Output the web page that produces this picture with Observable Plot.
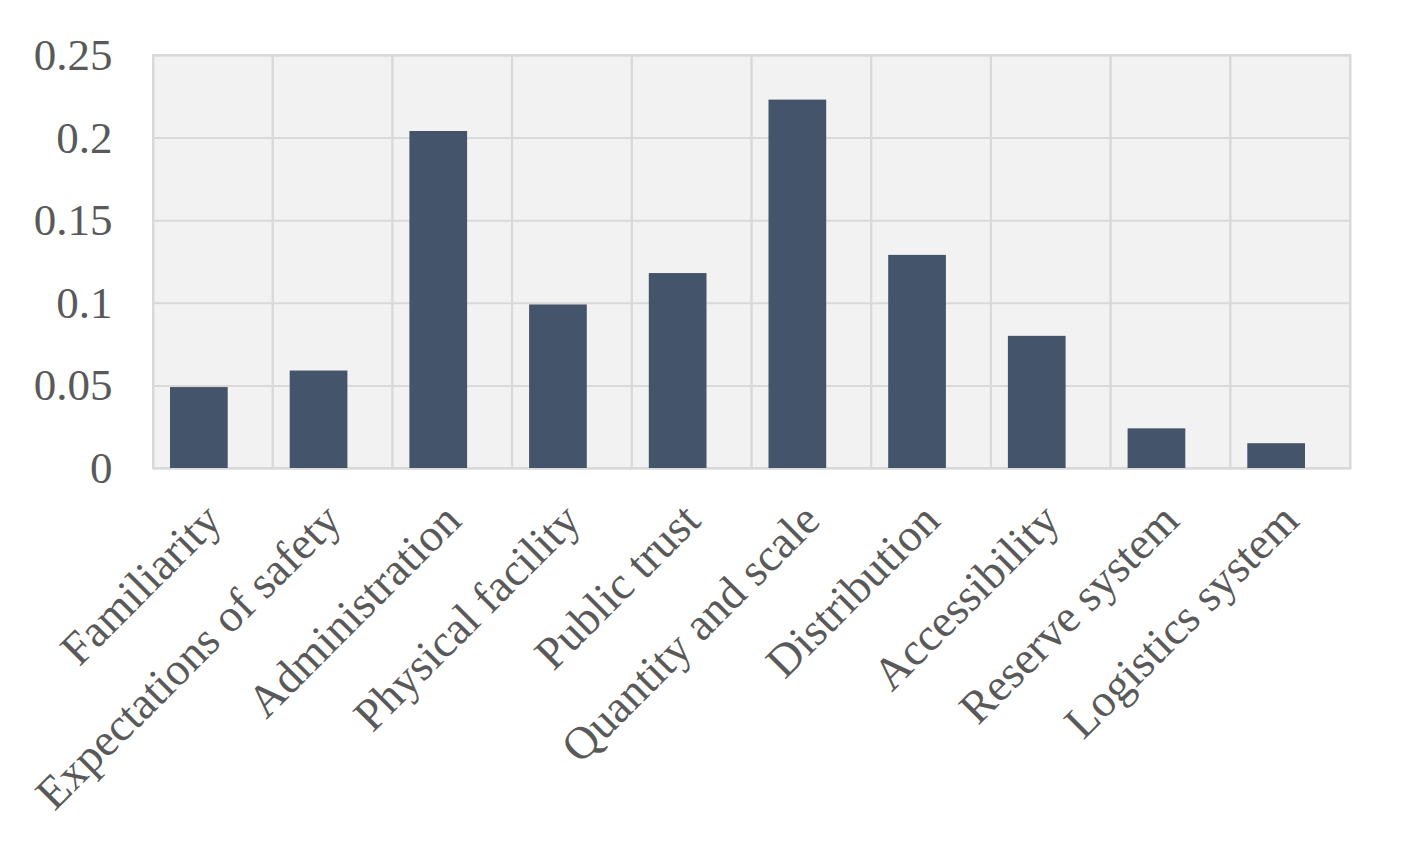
<!DOCTYPE html>
<html>
<head>
<meta charset="utf-8">
<script src="https://cdn.jsdelivr.net/npm/d3@7"></script>
<script src="https://cdn.jsdelivr.net/npm/@observablehq/plot@0.6"></script>
<style>
  html, body { margin: 0; padding: 0; background: #ffffff; }
</style>
</head>
<body>
<div id="chart"></div>
<script>
const categories = [
  "Familiarity",
  "Expectations of safety",
  "Administration",
  "Physical facility",
  "Public trust",
  "Quantity and scale",
  "Distribution",
  "Accessibility",
  "Reserve system",
  "Logistics system"
];
const values = [0.049, 0.059, 0.204, 0.099, 0.118, 0.223, 0.129, 0.080, 0.024, 0.015];
const yTicks = [0, 0.05, 0.1, 0.15, 0.2, 0.25];
const yTickLabels = ["0", "0.05", "0.1", "0.15", "0.2", "0.25"];

const data = categories.map((c, i) => ({category: c, value: values[i]}));

const gridColor = "#d9d9d9";
const textColor = "#595959";

const chart = Plot.plot({
  width: 1407,
  height: 861,
  marginLeft: 153,
  marginRight: 57,
  marginTop: 55,
  marginBottom: 393,
  style: {
    fontFamily: "'Liberation Serif', 'Times New Roman', serif",
    background: "#ffffff",
    color: textColor
  },
  x: {domain: categories, padding: 0, round: false, label: null},
  y: {domain: [0, 0.25], label: null},
  marks: [
    Plot.frame({fill: "#f2f2f2"}),
    Plot.gridY(yTicks, {stroke: gridColor, strokeOpacity: 1, strokeWidth: 2}),
    Plot.cell(data, {x: "category", fill: "none", stroke: gridColor, strokeWidth: 2}),
    Plot.frame({stroke: gridColor, strokeWidth: 2}),
    Plot.barY(data, {x: "category", y: "value", fill: "#44546a", insetLeft: 17, insetRight: 45}),
    Plot.axisY(yTicks, {
      tickFormat: (d, i) => yTickLabels[i],
      tickSize: 0,
      tickPadding: 41,
      fontSize: 45,
      fill: textColor,
      label: null
    }),
    Plot.axisX({
      tickRotate: -45,
      tickSize: 0,
      tickPadding: 44,
      fontSize: 46,
      fill: textColor,
      label: null
    })
  ]
});

document.getElementById("chart").appendChild(chart);
</script>
</body>
</html>
